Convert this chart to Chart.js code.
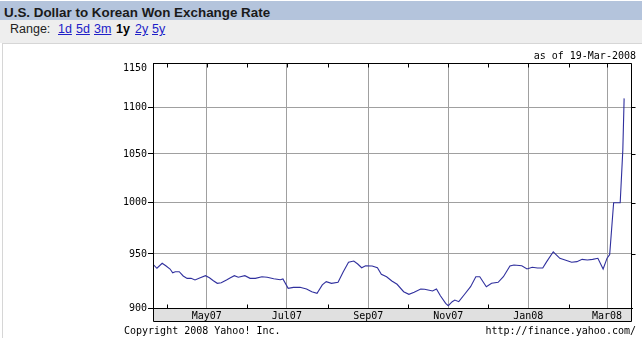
<!DOCTYPE html>
<html>
<head>
<meta charset="utf-8">
<title>U.S. Dollar to Korean Won Exchange Rate</title>
<script src="https://cdn.jsdelivr.net/npm/chart.js@4.4.1/dist/chart.umd.min.js"></script>
<style>
    html, body { margin: 0; padding: 0; background: #fff; }
    body { width: 642px; height: 338px; position: relative; overflow: hidden; font-family: Arial, 'Liberation Sans', sans-serif; }
    .title-bar { position: absolute; left: 0; top: 1px; width: 642px; height: 19px; background: #b4c4dc; }
    .title { position: absolute; left: 4px; top: 5px; line-height: 15px; font-size: 13.4px; font-weight: bold; color: #1a1a1a; }
    .range-bar { position: absolute; left: 0; top: 20px; width: 642px; height: 23px; background: #eeeeee; }
    .range { position: absolute; top: 22px; line-height: 14px; font-size: 12.5px; color: #222; }
    .range a { color: #2020c8; text-decoration: underline; }
    .range b { color: #000; }
    .frame { position: absolute; left: 2px; top: 43px; width: 650px; height: 300px; border-left: 1px solid #d6d6d6; border-top: 1px solid #d6d6d6; }
    #chart { position: absolute; left: 0; top: 45px; }
    .mono { position: absolute; font-family: 'DejaVu Sans Mono', monospace; font-size: 10px; line-height: 12px; color: #000; white-space: pre; }
</style>
</head>
<body>
<div class="title-bar"></div>
<div class="title">U.S. Dollar to Korean Won Exchange Rate</div>
<div class="range-bar"></div>
<div class="range" style="left:10px">Range:</div>
<div class="range" style="left:58px"><a>1d</a></div>
<div class="range" style="left:76px"><a>5d</a></div>
<div class="range" style="left:94px"><a>3m</a></div>
<div class="range" style="left:116px"><b>1y</b></div>
<div class="range" style="left:135px"><a>2y</a></div>
<div class="range" style="left:152px"><a>5y</a></div>
<div class="frame"></div>
<canvas id="chart" width="642" height="293"></canvas>
<div class="mono" style="right:6px; top:50px">as of 19-Mar-2008</div>
<div class="mono" style="left:124px; top:325px">Copyright 2008 Yahoo! Inc.</div>
<div class="mono" style="right:6px; top:325px">http://finance.yahoo.com/</div>

<script>
    /* ── Data (KRW per USD) ── */
    const dates = [
        '2007-03-21', '2007-03-24', '2007-03-28', '2007-03-31', '2007-04-03', '2007-04-05',
        '2007-04-07', '2007-04-10', '2007-04-13', '2007-04-16', '2007-04-19', '2007-04-22',
        '2007-04-26', '2007-04-30', '2007-05-03', '2007-05-06', '2007-05-09', '2007-05-12',
        '2007-05-16', '2007-05-19', '2007-05-22', '2007-05-25', '2007-05-30', '2007-06-03',
        '2007-06-07', '2007-06-12', '2007-06-16', '2007-06-21', '2007-06-26', '2007-06-28',
        '2007-07-02', '2007-07-06', '2007-07-11', '2007-07-16', '2007-07-20', '2007-07-24',
        '2007-07-28', '2007-07-31', '2007-08-04', '2007-08-09', '2007-08-13', '2007-08-17',
        '2007-08-21', '2007-08-24', '2007-08-27', '2007-08-30', '2007-09-04', '2007-09-08',
        '2007-09-11', '2007-09-15', '2007-09-19', '2007-09-23', '2007-09-28', '2007-10-02',
        '2007-10-06', '2007-10-11', '2007-10-14', '2007-10-20', '2007-10-23', '2007-10-26',
        '2007-10-30', '2007-11-01', '2007-11-04', '2007-11-06', '2007-11-09', '2007-11-13',
        '2007-11-18', '2007-11-22', '2007-11-25', '2007-11-30', '2007-12-04', '2007-12-09',
        '2007-12-13', '2007-12-18', '2007-12-21', '2007-12-27', '2007-12-31', '2008-01-04',
        '2008-01-08', '2008-01-12', '2008-01-15', '2008-01-20', '2008-01-25', '2008-01-29',
        '2008-02-03', '2008-02-07', '2008-02-11', '2008-02-15', '2008-02-19', '2008-02-23',
        '2008-02-27', '2008-03-01', '2008-03-03', '2008-03-06', '2008-03-11', '2008-03-13',
        '2008-03-14'
    ];
    const rates = [
        940.2, 936.5, 941.2, 938.6, 935.8, 932.3,
        933.3, 933.3, 929.3, 927.1, 927.1, 925.6,
        927.7, 929.6, 927.7, 924.9, 922.5, 923.1,
        925.6, 927.7, 929.6, 928.1, 929.6, 927.1,
        927.1, 928.6, 928.1, 926.8, 925.8, 926.5,
        917.9, 918.8, 918.8, 917.3, 914.8, 913.3,
        921.0, 924.0, 922.5, 923.4, 933.3, 942.1,
        943.3, 940.5, 937.0, 938.9, 938.6, 937.0,
        930.9, 928.6, 924.6, 921.6, 914.8, 912.4,
        914.2, 917.3, 917.0, 915.4, 917.3, 911.1,
        904.2, 902.1, 905.7, 907.2, 905.7, 911.8,
        919.4, 928.6, 928.6, 919.4, 922.5, 923.4,
        928.6, 938.6, 939.6, 938.9, 935.8, 937.4,
        936.7, 936.7, 942.7, 952.1, 945.9, 944.3,
        942.1, 942.7, 944.9, 944.3, 944.9, 945.9,
        935.8, 946.0, 949.5, 1000, 1000, 1054,
        1110
    ];

    /* ── Axis ticks ── */
    const xRange = ['2007-03-21', '2008-03-20'];
    const labelMonths = ['2007-05-01', '2007-07-01', '2007-09-01', '2007-11-01', '2008-01-01', '2008-03-01'];
    const monthLabels = ['May07', 'Jul07', 'Sep07', 'Nov07', 'Jan08', 'Mar08'];
    const minorMonths = ['2007-04-01', '2007-06-01', '2007-08-01', '2007-10-01', '2007-12-01', '2008-02-01'];
    const yTicks = [900, 950, 1000, 1050, 1100, 1150];
    const yTop = yTicks[yTicks.length - 1];

    const day = (s) => Date.parse(s);
    const monoFont = { family: "'DejaVu Sans Mono', monospace", size: 10 };

    /* ── Frame, grey date band and small tick marks ── */
    const framePlugin = {
        id: 'frame',
        beforeDraw(chart) {
            const { ctx, chartArea: a } = chart;
            ctx.save();
            ctx.fillStyle = '#e0e0e0';
            ctx.fillRect(a.left, a.bottom, a.right - a.left, 13);
            ctx.restore();
        },
        afterDraw(chart) {
            const { ctx, chartArea: a, scales } = chart;
            const x = scales.x, y = scales.y;
            const L = a.left + 0.5, R = a.right - 0.5, T = a.top + 0.5, B = a.bottom + 0.5;
            ctx.save();
            ctx.strokeStyle = '#000';
            ctx.lineWidth = 1;
            ctx.beginPath();
            // outer box including the date band
            ctx.moveTo(L, T); ctx.lineTo(R, T); ctx.lineTo(R, B + 13); ctx.lineTo(L, B + 13); ctx.lineTo(L, T);
            ctx.moveTo(L, B); ctx.lineTo(R, B);
            // top ticks at every month
            labelMonths.concat(minorMonths).forEach((m) => {
                const px = Math.round(x.getPixelForValue(day(m))) + 0.5;
                ctx.moveTo(px, T); ctx.lineTo(px, T + 4);
            });
            // bottom ticks between labelled months
            minorMonths.forEach((m) => {
                const px = Math.round(x.getPixelForValue(day(m))) + 0.5;
                ctx.moveTo(px, B); ctx.lineTo(px, B - 4);
            });
            // right-hand ticks
            yTicks.slice(1, -1).forEach((v) => {
                const py = Math.round(y.getPixelForValue(v)) + 0.5;
                ctx.moveTo(R, py); ctx.lineTo(R + 4, py);
            });
            ctx.stroke();

            // top label sits a little below the frame, as in the Yahoo chart
            ctx.fillStyle = '#000';
            ctx.font = "10px 'DejaVu Sans Mono', monospace";
            ctx.textAlign = 'right';
            ctx.textBaseline = 'middle';
            ctx.fillText(String(yTop), a.left - 6, y.getPixelForValue(yTop) + 5);
            ctx.restore();
        }
    };

    new Chart(document.getElementById('chart'), {
        type: 'line',
        data: {
            datasets: [{
                data: dates.map((d, i) => ({ x: day(d), y: rates[i] })),
                borderColor: '#30309e',
                borderWidth: 1.1,
                pointRadius: 0,
                tension: 0,
                fill: false
            }]
        },
        options: {
            responsive: false,
            animation: false,
            devicePixelRatio: 1,
            layout: { padding: { top: 18, right: 10, bottom: 0, left: 0 } },
            plugins: { legend: { display: false }, tooltip: { enabled: false } },
            scales: {
                x: {
                    type: 'linear',
                    min: day(xRange[0]),
                    max: day(xRange[1]),
                    afterBuildTicks: (s) => { s.ticks = labelMonths.map((m) => ({ value: day(m) })); },
                    afterFit: (s) => { s.height = 30; },
                    ticks: {
                        autoSkip: false,
                        maxRotation: 0,
                        padding: 2,
                        color: '#000',
                        font: monoFont,
                        callback: (v, i) => monthLabels[i]
                    },
                    grid: { color: '#a0a0a0', drawTicks: false },
                    border: { color: '#000' }
                },
                y: {
                    type: 'logarithmic',
                    min: yTicks[0],
                    max: yTop,
                    afterBuildTicks: (s) => { s.ticks = yTicks.map((v) => ({ value: v })); },
                    afterFit: (s) => { s.width = 153; },
                    ticks: {
                        padding: 1,
                        color: '#000',
                        font: monoFont,
                        callback: (v) => (v === yTop ? '' : String(v))
                    },
                    grid: {
                        color: '#a0a0a0',
                        tickColor: (c) => (c.tick && c.tick.value === yTop ? 'rgba(0,0,0,0)' : '#000'),
                        tickLength: 5
                    },
                    border: { color: '#000' }
                }
            }
        },
        plugins: [framePlugin]
    });
</script>
</body>
</html>
